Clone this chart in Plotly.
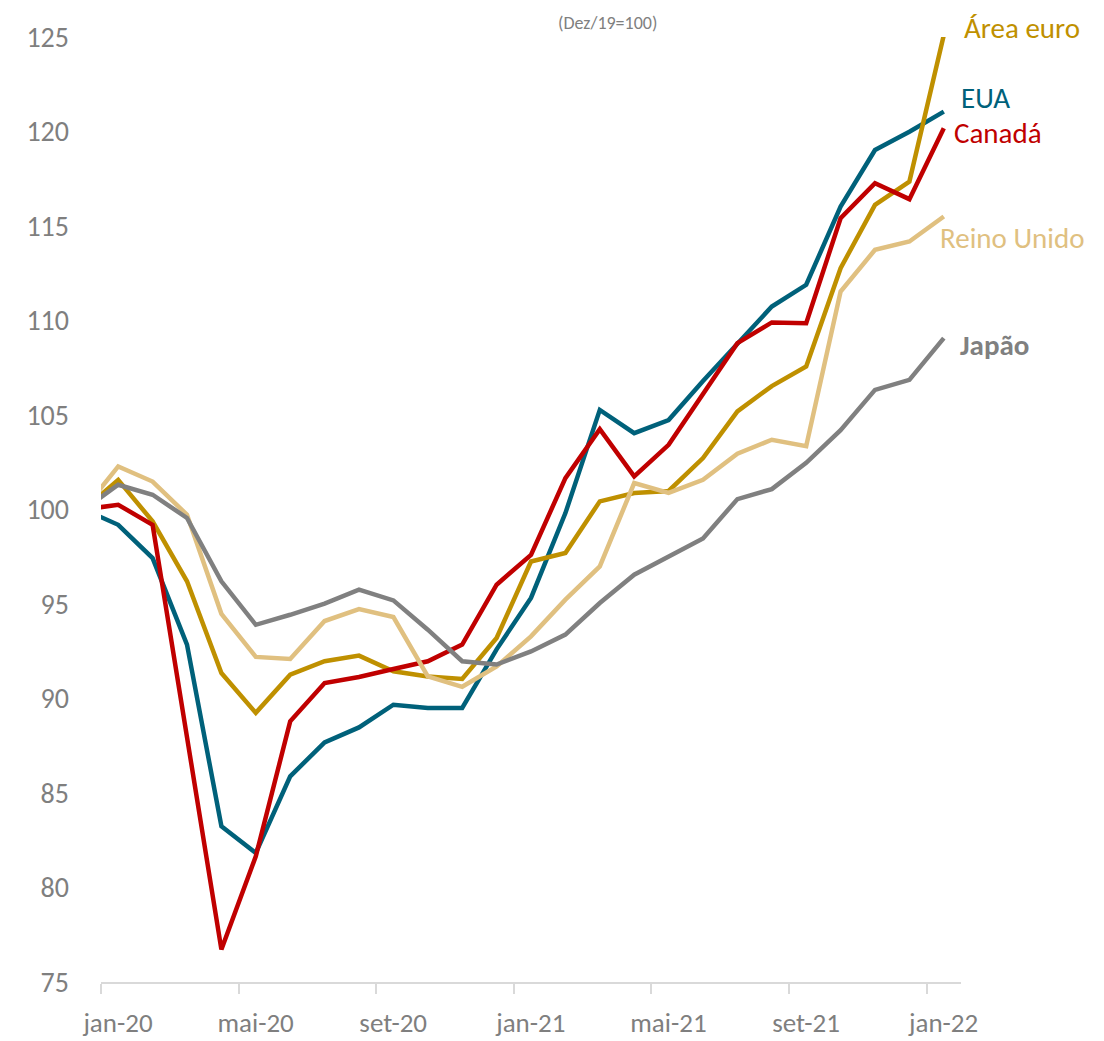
import plotly.graph_objects as go

# monthly index, dez/19 = 100 (the dez-19 point sits outside the visible range)
months = ['dez-19',
          'jan-20', 'fev-20', 'mar-20', 'abr-20', 'mai-20', 'jun-20', 'jul-20', 'ago-20',
          'set-20', 'out-20', 'nov-20', 'dez-20',
          'jan-21', 'fev-21', 'mar-21', 'abr-21', 'mai-21', 'jun-21', 'jul-21', 'ago-21',
          'set-21', 'out-21', 'nov-21', 'dez-21',
          'jan-22']
tick_months = ['jan-20', 'mai-20', 'set-20', 'jan-21', 'mai-21', 'set-21', 'jan-22']

eua = [100, 99.19, 97.43, 92.85, 83.24, 81.83, 85.88, 87.68, 88.47, 89.67, 89.5, 89.5, 92.6,
       95.32, 99.81, 105.27, 104.04, 104.73, 106.8, 108.75, 110.74, 111.89, 116.03, 119.02,
       119.99, 121.05]
canada = [100, 100.25, 99.19, 88.0, 76.72, 81.65, 88.79, 90.82, 91.14, 91.56, 91.97, 92.85,
          96.02, 97.6, 101.66, 104.25, 101.75, 103.42, 106.16, 108.8, 109.9, 109.86, 115.41,
          117.26, 116.42, 120.17]
area_euro = [100, 101.57, 99.37, 96.2, 91.35, 89.24, 91.26, 91.97, 92.27, 91.44, 91.17, 91.03,
             93.2, 97.25, 97.7, 100.43, 100.87, 100.98, 102.72, 105.19, 106.53, 107.57, 112.77,
             116.12, 117.35, 125.1]
reino_unido = [100, 102.28, 101.48, 99.72, 94.48, 92.2, 92.09, 94.1, 94.73, 94.31, 91.17, 90.62,
               91.7, 93.29, 95.23, 96.99, 101.4, 100.88, 101.57, 102.95, 103.69, 103.35, 111.53,
               113.74, 114.18, 115.5]
japao = [100, 101.31, 100.78, 99.55, 96.2, 93.9, 94.43, 95.02, 95.76, 95.19, 93.64, 91.97, 91.8,
         92.49, 93.38, 95.05, 96.55, 97.52, 98.47, 100.55, 101.08, 102.47, 104.2, 106.33,
         106.86, 109.07]

TEAL = '#00617A'
RED = '#C00000'
GOLD = '#BF9000'
BEIGE = '#E0C080'
GRAY = '#808080'
TEXT_GRAY = '#7F7F7F'
FONT = 'Calibri, Carlito, Lato, sans-serif'

x = list(range(len(months)))

# drawing order: later traces sit on top
series = [
    ('EUA', eua, TEAL),
    ('Área euro', area_euro, GOLD),
    ('Canadá', canada, RED),
    ('Reino Unido', reino_unido, BEIGE),
    ('Japão', japao, GRAY),
]

fig = go.Figure()
for name, vals, color in series:
    fig.add_trace(go.Scatter(x=x, y=vals, mode='lines', name=name,
                             line=dict(color=color, width=4.5)))

# end-of-line labels (paper coords)
labels = [
    ('Área euro', GOLD, 1.001, 1.0092, False),
    ('EUA', TEAL, 0.998, 0.9355, False),
    ('Canadá', RED, 0.990, 0.8985, False),
    ('Reino Unido', BEIGE, 0.973, 0.7874, False),
    ('Japão', GRAY, 0.996, 0.6743, True),
]
for text, color, lx, ly, bold in labels:
    fig.add_annotation(x=lx, y=ly, xref='paper', yref='paper', text=f'<b>{text}</b>' if bold else text,
                       showarrow=False, xanchor='left', yanchor='middle',
                       font=dict(family=FONT, size=29, color=color))

# subtitle at the top edge
fig.add_annotation(x=0.5887, y=1.0, xref='paper', yref='paper', text='(Dez/19=100)',
                   showarrow=False, xanchor='center', yanchor='bottom', yshift=1,
                   font=dict(family=FONT, size=18, color=TEXT_GRAY))

tick_pos = [months.index(m) - 0.5 for m in tick_months]

# page body adds an 8px offset, so the figure is 8px smaller than the window
fig.update_layout(
    width=1096, height=1033,
    margin=dict(l=93, r=143, t=29, b=59),
    paper_bgcolor='white', plot_bgcolor='white',
    showlegend=False,
    font=dict(family=FONT, size=28, color=TEXT_GRAY),
    xaxis=dict(range=[0.5, len(months) - 0.5], tickmode='array', tickvals=tick_pos,
               ticktext=tick_months, ticks='outside', ticklen=10, tickwidth=1.5,
               tickcolor='#D9D9D9', showline=True, linecolor='#D9D9D9', linewidth=1.5,
               showgrid=False, zeroline=False, ticklabelshift=17, ticklabelstandoff=6,
               automargin=False,
               tickfont=dict(family=FONT, size=27, color=TEXT_GRAY)),
    yaxis=dict(range=[75, 125], dtick=5, tick0=75, showgrid=False, zeroline=False,
               showline=False, ticks='', ticklabelstandoff=31, automargin=False,
               tickfont=dict(family=FONT, size=28, color=TEXT_GRAY)),
)

fig.write_html('out.html')
